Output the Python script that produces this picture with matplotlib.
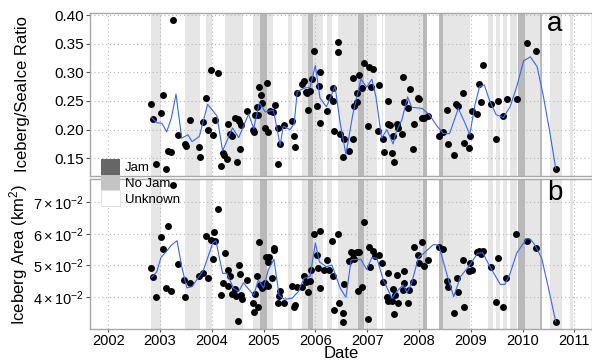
import numpy as np
import matplotlib
matplotlib.use("Agg")
import matplotlib.pyplot as plt
from matplotlib.patches import Patch
from matplotlib.ticker import FixedLocator, FuncFormatter

plt.rcParams['font.family'] = ['Liberation Sans', 'DejaVu Sans']
plt.rcParams['mathtext.fontset'] = 'custom'
plt.rcParams['mathtext.rm'] = 'Liberation Sans'
plt.rcParams['mathtext.it'] = 'Liberation Sans:italic'

# --- ratio panel (a) ---
ratio_t = [2002.83, 2002.87, 2002.92, 2003.02, 2003.06, 2003.11, 2003.15, 2003.22, 2003.26, 2003.34,
           2003.49, 2003.50, 2003.58, 2003.76, 2003.77, 2003.84, 2003.89, 2003.92, 2003.98, 2004.02,
           2004.07, 2004.13, 2004.18, 2004.21, 2004.24, 2004.30, 2004.32, 2004.36, 2004.40, 2004.44,
           2004.48, 2004.50, 2004.53, 2004.55, 2004.57, 2004.68, 2004.79, 2004.82, 2004.83, 2004.88,
           2004.90, 2004.92, 2004.95, 2004.97, 2005.02, 2005.06, 2005.09, 2005.13, 2005.18, 2005.22,
           2005.27, 2005.28, 2005.32, 2005.40, 2005.55, 2005.58, 2005.60, 2005.65, 2005.74, 2005.78,
           2005.82, 2005.84, 2005.85, 2005.89, 2005.93, 2005.98, 2006.04, 2006.07, 2006.08, 2006.09,
           2006.23, 2006.27, 2006.34, 2006.35, 2006.36, 2006.43, 2006.44, 2006.47, 2006.53, 2006.56,
           2006.65, 2006.72, 2006.73, 2006.75, 2006.80, 2006.81, 2006.84, 2006.91, 2006.93, 2007.01,
           2007.04, 2007.07, 2007.12, 2007.20, 2007.22, 2007.30, 2007.33, 2007.40, 2007.41, 2007.44,
           2007.48, 2007.49, 2007.51, 2007.57, 2007.60, 2007.67, 2007.70, 2007.71, 2007.78, 2007.82,
           2007.89, 2007.91, 2007.99, 2008.01, 2008.06, 2008.09, 2008.18, 2008.38, 2008.47, 2008.54,
           2008.57, 2008.67, 2008.72, 2008.76, 2008.85, 2008.86, 2008.96, 2008.98, 2009.02, 2009.12,
           2009.16, 2009.20, 2009.23, 2009.39, 2009.49, 2009.52, 2009.63, 2009.70, 2009.89, 2010.08,
           2010.26, 2010.64]
ratio_v = [0.244, 0.218, 0.140, 0.229, 0.260, 0.132, 0.163, 0.161, 0.391, 0.190,
           0.175, 0.172, 0.216, 0.170, 0.153, 0.214, 0.256, 0.200, 0.304, 0.191,
           0.216, 0.299, 0.137, 0.160, 0.156, 0.148, 0.209, 0.192, 0.188, 0.221,
           0.144, 0.218, 0.215, 0.166, 0.208, 0.233, 0.200, 0.196, 0.226, 0.240,
           0.225, 0.274, 0.260, 0.247, 0.202, 0.281, 0.195, 0.232, 0.231, 0.243,
           0.140, 0.203, 0.175, 0.208, 0.215, 0.188, 0.170, 0.264, 0.279, 0.285,
           0.266, 0.263, 0.235, 0.267, 0.288, 0.338, 0.241, 0.276, 0.300, 0.212,
           0.232, 0.257, 0.250, 0.273, 0.197, 0.353, 0.335, 0.192, 0.152, 0.183,
           0.163, 0.290, 0.183, 0.241, 0.249, 0.264, 0.295, 0.272, 0.317, 0.207,
           0.310, 0.274, 0.305, 0.198, 0.278, 0.183, 0.161, 0.209, 0.250, 0.208,
           0.160, 0.189, 0.144, 0.210, 0.202, 0.192, 0.291, 0.248, 0.238, 0.271,
           0.166, 0.210, 0.256, 0.253, 0.220, 0.221, 0.224, 0.189, 0.195, 0.234,
           0.175, 0.156, 0.244, 0.242, 0.263, 0.177, 0.168, 0.189, 0.233, 0.227,
           0.280, 0.249, 0.313, 0.245, 0.183, 0.250, 0.223, 0.253, 0.253, 0.352,
           0.337, 0.131]

ratio_smooth_t = [2002.84, 2002.94, 2003.04, 2003.13, 2003.22, 2003.31, 2003.42, 2003.54, 2003.62, 2003.76,
                  2003.92, 2004.10, 2004.21, 2004.40, 2004.52, 2004.71, 2004.81, 2004.92, 2005.03, 2005.19,
                  2005.32, 2005.38, 2005.51, 2005.59, 2005.65, 2005.77, 2005.90, 2006.00, 2006.09, 2006.21,
                  2006.25, 2006.38, 2006.48, 2006.59, 2006.72, 2006.88, 2006.99, 2007.09, 2007.17, 2007.28,
                  2007.38, 2007.50, 2007.56, 2007.67, 2007.78, 2007.86, 2008.06, 2008.20, 2008.35, 2008.47,
                  2008.59, 2008.76, 2008.89, 2008.98, 2009.08, 2009.17, 2009.26, 2009.37, 2009.49, 2009.63,
                  2009.76, 2009.89, 2010.02, 2010.15, 2010.28, 2010.40, 2010.53, 2010.64]
ratio_smooth_v = [0.221, 0.212, 0.211, 0.196, 0.220, 0.262, 0.185, 0.191, 0.179, 0.188,
                  0.244, 0.224, 0.163, 0.203, 0.186, 0.227, 0.202, 0.247, 0.231, 0.234,
                  0.173, 0.206, 0.200, 0.210, 0.266, 0.272, 0.274, 0.312, 0.255, 0.240,
                  0.247, 0.276, 0.211, 0.157, 0.225, 0.288, 0.274, 0.288, 0.257, 0.185,
                  0.200, 0.175, 0.196, 0.217, 0.257, 0.239, 0.237, 0.226, 0.206, 0.193,
                  0.193, 0.237, 0.211, 0.191, 0.243, 0.275, 0.278, 0.249, 0.226, 0.221,
                  0.240, 0.276, 0.320, 0.327, 0.310, 0.259, 0.193, 0.132]

# --- area panel (b) ---
area_t = [2002.83, 2002.87, 2002.92, 2003.02, 2003.06, 2003.11, 2003.16, 2003.21, 2003.26, 2003.34,
          2003.47, 2003.49, 2003.58, 2003.76, 2003.84, 2003.89, 2003.92, 2003.98, 2004.03, 2004.05,
          2004.07, 2004.13, 2004.18, 2004.21, 2004.25, 2004.31, 2004.32, 2004.36, 2004.40, 2004.44,
          2004.47, 2004.50, 2004.53, 2004.55, 2004.56, 2004.59, 2004.69, 2004.79, 2004.82, 2004.83,
          2004.88, 2004.90, 2004.92, 2004.93, 2004.97, 2005.00, 2005.03, 2005.05, 2005.08, 2005.09,
          2005.11, 2005.16, 2005.20, 2005.21, 2005.27, 2005.29, 2005.32, 2005.40, 2005.55, 2005.58,
          2005.60, 2005.65, 2005.74, 2005.78, 2005.82, 2005.85, 2005.89, 2005.92, 2005.98, 2006.04,
          2006.05, 2006.08, 2006.09, 2006.16, 2006.23, 2006.27, 2006.34, 2006.33, 2006.36, 2006.43,
          2006.46, 2006.53, 2006.54, 2006.56, 2006.65, 2006.69, 2006.72, 2006.73, 2006.75, 2006.80,
          2006.83, 2006.85, 2006.91, 2006.93, 2007.01, 2007.04, 2007.06, 2007.12, 2007.15, 2007.22,
          2007.28, 2007.31, 2007.38, 2007.40, 2007.41, 2007.48, 2007.49, 2007.51, 2007.53, 2007.57,
          2007.60, 2007.69, 2007.71, 2007.72, 2007.78, 2007.81, 2007.89, 2007.91, 2007.99, 2008.01,
          2008.06, 2008.09, 2008.18, 2008.38, 2008.47, 2008.54, 2008.57, 2008.67, 2008.73, 2008.76,
          2008.85, 2008.86, 2008.96, 2008.98, 2009.02, 2009.12, 2009.16, 2009.20, 2009.23, 2009.39,
          2009.49, 2009.52, 2009.63, 2009.68, 2009.88, 2010.08, 2010.25, 2010.64]
area_v = [0.0493, 0.0464, 0.0401, 0.0589, 0.0551, 0.0428, 0.0624, 0.0419, 0.0754, 0.0503,
          0.0454, 0.0399, 0.0445, 0.0466, 0.0477, 0.0593, 0.0459, 0.0580, 0.0519, 0.0606,
          0.0578, 0.0678, 0.0406, 0.0443, 0.0538, 0.0487, 0.0435, 0.0466, 0.0410, 0.0425,
          0.0403, 0.0325, 0.0501, 0.0473, 0.0406, 0.0394, 0.0454, 0.0380, 0.0354, 0.0410,
          0.0466, 0.0367, 0.0575, 0.0438, 0.0428, 0.0435, 0.0443, 0.0525, 0.0511, 0.0435,
          0.0527, 0.0459, 0.0548, 0.0554, 0.0382, 0.0403, 0.0420, 0.0380, 0.0435, 0.0369,
          0.0375, 0.0431, 0.0431, 0.0466, 0.0448, 0.0415, 0.0451, 0.0487, 0.0598, 0.0533,
          0.0493, 0.0608, 0.0428, 0.0487, 0.0517, 0.0487, 0.0466, 0.0578, 0.0359, 0.0598,
          0.0382, 0.0349, 0.0320, 0.0440, 0.0515, 0.0541, 0.0522, 0.0540, 0.0519, 0.0543,
          0.0420, 0.0543, 0.0433, 0.0638, 0.0331, 0.0559, 0.0496, 0.0545, 0.0530, 0.0533,
          0.0506, 0.0448, 0.0399, 0.0388, 0.0475, 0.0388, 0.0425, 0.0346, 0.0406, 0.0469,
          0.0382, 0.0422, 0.0443, 0.0482, 0.0380, 0.0422, 0.0446, 0.0557, 0.0533, 0.0506,
          0.0573, 0.0499, 0.0517, 0.0557, 0.0551, 0.0451, 0.0431, 0.0349, 0.0459, 0.0417,
          0.0517, 0.0367, 0.0482, 0.0506, 0.0487, 0.0541, 0.0545, 0.0535, 0.0546, 0.0496,
          0.0385, 0.0524, 0.0369, 0.0461, 0.0599, 0.0578, 0.0556, 0.0322]

area_smooth_t = [2002.84, 2002.94, 2003.02, 2003.13, 2003.22, 2003.33, 2003.42, 2003.52, 2003.62, 2003.76,
                 2003.84, 2004.02, 2004.08, 2004.21, 2004.29, 2004.42, 2004.52, 2004.61, 2004.81, 2004.90,
                 2005.00, 2005.09, 2005.20, 2005.30, 2005.40, 2005.55, 2005.67, 2005.78, 2005.90, 2006.00,
                 2006.08, 2006.21, 2006.32, 2006.48, 2006.59, 2006.69, 2006.79, 2006.88, 2006.99, 2007.09,
                 2007.19, 2007.31, 2007.48, 2007.57, 2007.69, 2007.77, 2007.86, 2007.99, 2008.09, 2008.28,
                 2008.38, 2008.57, 2008.67, 2008.80, 2008.98, 2009.13, 2009.23, 2009.37, 2009.57, 2009.66,
                 2009.76, 2009.89, 2010.08, 2010.15, 2010.24, 2010.37, 2010.50, 2010.64]
area_smooth_v = [0.0462, 0.0480, 0.0525, 0.0545, 0.0564, 0.0578, 0.0496, 0.0429, 0.0433, 0.0466,
                 0.0485, 0.0571, 0.0578, 0.0475, 0.0475, 0.0428, 0.0417, 0.0445, 0.0406, 0.0454,
                 0.0428, 0.0485, 0.0519, 0.0406, 0.0393, 0.0396, 0.0417, 0.0459, 0.0466, 0.0571,
                 0.0511, 0.0496, 0.0501, 0.0428, 0.0399, 0.0517, 0.0519, 0.0519, 0.0487, 0.0525,
                 0.0522, 0.0454, 0.0396, 0.0417, 0.0438, 0.0414, 0.0445, 0.0525, 0.0538, 0.0566,
                 0.0564, 0.0454, 0.0401, 0.0464, 0.0501, 0.0538, 0.0540, 0.0496, 0.0440, 0.0440,
                 0.0475, 0.0540, 0.0585, 0.0583, 0.0564, 0.0522, 0.0428, 0.0322]

# --- ice jam status periods ---
band_start = [2002.83, 2003.49, 2003.89, 2004.26, 2004.80, 2004.93, 2005.06, 2005.48, 2005.75, 2005.85,
              2005.96, 2006.22, 2006.44, 2006.83, 2006.94, 2007.28, 2007.34, 2008.07, 2008.38, 2008.47,
              2009.34, 2009.49, 2009.63, 2009.76, 2009.91, 2010.05, 2010.34, 2010.53, 2010.92]
band_end = [2003.02, 2003.78, 2004.00, 2004.60, 2004.93, 2005.06, 2005.19, 2005.55, 2005.85, 2005.96,
            2006.15, 2006.33, 2006.83, 2006.94, 2007.19, 2007.31, 2008.07, 2008.16, 2008.47, 2008.99,
            2009.42, 2009.57, 2009.70, 2009.90, 2010.05, 2010.34, 2010.37, 2010.76, 2010.98]
band_kind = ['No Jam', 'No Jam', 'No Jam', 'No Jam', 'No Jam', 'Jam', 'No Jam', 'No Jam', 'No Jam', 'Jam',
             'No Jam', 'No Jam', 'No Jam', 'Jam', 'No Jam', 'No Jam', 'No Jam', 'Jam', 'Jam', 'No Jam',
             'No Jam', 'No Jam', 'No Jam', 'No Jam', 'Jam', 'No Jam', 'Jam', 'No Jam', 'No Jam']

years = [2002, 2003, 2004, 2005, 2006, 2007, 2008, 2009, 2010, 2011]
ratio_ticks = [0.15, 0.20, 0.25, 0.30, 0.35, 0.40]
area_ticks = [0.04, 0.05, 0.06, 0.07]

key_col = {'Jam': '#666666', 'No Jam': '#c4c4c4', 'Unknown': 'white'}
band_col = {'Jam': '#b9b9b9', 'No Jam': '#e6e6e6'}

fig = plt.figure(figsize=(5.92, 3.62), dpi=100)
ax1 = fig.add_axes([90/592, 1-176/362, 502/592, 163/362])
ax2 = fig.add_axes([90/592, 1-329/362, 502/592, 150/362])

for ax in (ax1, ax2):
    for s, e, k in zip(band_start, band_end, band_kind):
        ax.axvspan(s, e, color=band_col[k], lw=0, zorder=0)
    ax.set_axisbelow(True)
    ax.set_xlim(2001.65, 2011.34)
    ax.xaxis.set_major_locator(FixedLocator(years))
    ax.grid(True, which='major', color='#b5b5b5', ls=(0, (1, 2.5)), lw=0.8)
    for sp in ax.spines.values():
        sp.set_color('#a8a8a8')
        sp.set_linewidth(1.0)
    ax.tick_params(colors='#555555', labelcolor='black', labelsize=11, length=3, width=0.8, pad=1.5)

ax1.scatter(ratio_t, ratio_v, s=25, c='black', lw=0, zorder=3)
ax1.plot(ratio_smooth_t, ratio_smooth_v, color='#3366FF', lw=0.8, zorder=4)
ax1.set_ylim(0.119, 0.4035)
ax1.yaxis.set_major_locator(FixedLocator(ratio_ticks))
ax1.yaxis.set_major_formatter(FuncFormatter(lambda v, p: '%.2f' % v))
ax1.tick_params(axis='x', labelbottom=False, length=0)
ax1.set_ylabel('Iceberg/SeaIce Ratio', fontsize=12)
ax1.yaxis.set_label_coords(-0.12, 0.5)
ax1.text(0.926, 0.93, 'a', transform=ax1.transAxes, fontsize=20, ha='center', va='center')

ax2.scatter(area_t, area_v, s=25, c='black', lw=0, zorder=3)
ax2.plot(area_smooth_t, area_smooth_v, color='#3366FF', lw=0.8, zorder=4)
ax2.set_ylim(0.0299, 0.0773)
ax2.yaxis.set_major_locator(FixedLocator(area_ticks))
ax2.yaxis.set_major_formatter(FuncFormatter(lambda v, p: r'$%d\times10^{-2}$' % round(v * 100)))
ax2.tick_params(axis='y', labelsize=10.5)
ax2.tick_params(axis='x', labelsize=10.5, length=2)
ax2.set_ylabel(r'Iceberg Area (km$^2$)', fontsize=12)
ax2.yaxis.set_label_coords(-0.12, 0.5)
ax2.set_xlabel('Date', fontsize=12, labelpad=-1.5)
ax2.text(0.926, 0.905, 'b', transform=ax2.transAxes, fontsize=20, ha='center', va='center')

handles = [Patch(fc=key_col['Jam'], ec='none', label='Jam'),
           Patch(fc=key_col['No Jam'], ec='none', label='No Jam'),
           Patch(fc=key_col['Unknown'], ec='#dddddd', lw=0.6, label='Unknown')]
fig.legend(handles=handles, loc='upper left', bbox_to_anchor=(101/592, 1-159/362),
           frameon=False, fontsize=9.5, handlelength=1.45, handleheight=1.45,
           labelspacing=0, handletextpad=0.35, borderpad=0, borderaxespad=0)

fig.savefig('out.png', dpi=100)
